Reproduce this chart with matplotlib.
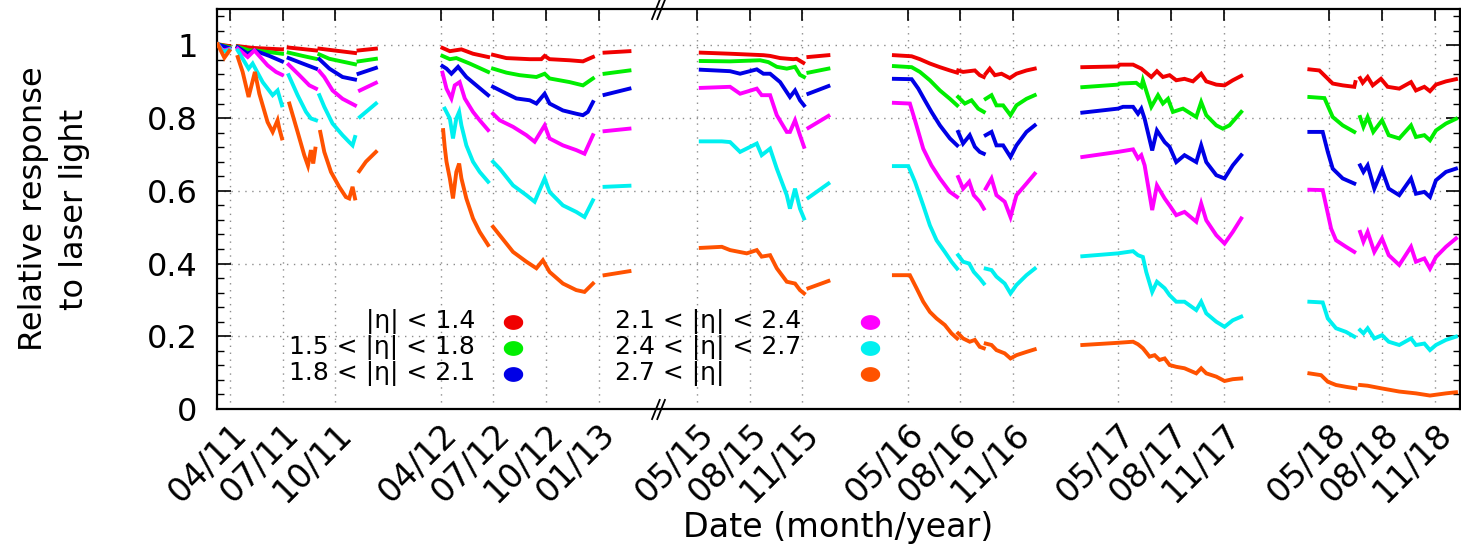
import numpy as np
import matplotlib
matplotlib.use("Agg")
import matplotlib.pyplot as plt
import matplotlib.transforms as mtransforms
from matplotlib.path import Path
from matplotlib.ticker import FixedLocator, MultipleLocator

# x values: months since January 2011 (3 = 04/11), y: relative response
RED = [
    [(2.30, 1.003), (2.96, 0.998)],
    [(3.44, 0.998), (4.29, 0.993), (5.96, 0.989)],
    [(6.34, 0.994), (7.90, 0.986)],
    [(8.09, 0.991), (10.12, 0.979)],
    [(10.32, 0.986), (11.31, 0.991)],
    [(15.10, 0.993), (15.52, 0.984), (16.18, 0.989), (16.84, 0.977), (17.70, 0.968)],
    [(17.98, 0.974), (18.74, 0.965), (20.07, 0.962), (20.73, 0.962), (20.92, 0.971),
     (21.20, 0.962), (22.34, 0.959), (23.10, 0.956), (23.38, 0.962), (23.67, 0.968)],
    [(24.33, 0.980), (25.75, 0.984)],
    [(52.21, 0.980), (53.88, 0.977), (55.78, 0.973), (56.16, 0.971), (56.73, 0.965),
     (57.48, 0.962), (57.67, 0.963), (58.05, 0.952)],
    [(58.34, 0.968), (59.48, 0.973)],
    [(63.21, 0.973), (64.22, 0.970), (64.69, 0.962), (65.26, 0.950), (65.83, 0.940),
     (66.40, 0.931), (66.81, 0.925)],
    [(66.87, 0.931), (67.15, 0.927), (67.82, 0.931), (68.10, 0.918), (68.33, 0.913)],
    [(68.44, 0.922), (68.67, 0.936), (68.96, 0.918), (69.34, 0.922), (69.81, 0.910),
     (70.19, 0.922), (70.76, 0.931), (71.23, 0.936)],
    [(73.94, 0.940), (75.97, 0.942), (76.07, 0.947), (76.83, 0.947), (77.30, 0.936),
     (77.87, 0.913), (78.19, 0.929), (78.53, 0.913), (78.91, 0.918), (79.29, 0.904),
     (79.76, 0.908), (80.24, 0.901), (80.71, 0.922), (81.00, 0.901), (81.57, 0.892),
     (82.04, 0.890), (82.51, 0.904), (82.99, 0.916)],
    [(86.87, 0.934), (87.44, 0.931), (87.82, 0.913), (88.20, 0.895), (88.77, 0.890),
     (89.43, 0.886), (89.49, 0.899)],
    [(89.76, 0.910), (89.91, 0.897), (90.19, 0.913), (90.48, 0.890), (90.95, 0.908),
     (91.33, 0.886), (91.99, 0.881), (92.66, 0.899), (92.94, 0.876), (93.42, 0.886),
     (93.74, 0.874), (94.08, 0.892), (94.65, 0.901), (95.22, 0.907)],
]

GREEN = [
    [(2.30, 1.003), (2.96, 0.995)],
    [(3.44, 0.996), (4.10, 0.986), (4.48, 0.986), (5.96, 0.977)],
    [(6.34, 0.980), (7.14, 0.971), (7.90, 0.963)],
    [(8.09, 0.975), (8.66, 0.963), (10.12, 0.948)],
    [(10.32, 0.956), (11.31, 0.963)],
    [(15.10, 0.971), (15.52, 0.962), (15.89, 0.965), (16.65, 0.950), (17.70, 0.927)],
    [(17.98, 0.936), (18.74, 0.925), (19.50, 0.918), (20.45, 0.913), (20.92, 0.922),
     (21.20, 0.909), (22.34, 0.899), (23.10, 0.890), (23.67, 0.909)],
    [(24.33, 0.922), (25.75, 0.931)],
    [(52.21, 0.957), (53.88, 0.956), (55.59, 0.959), (56.06, 0.954), (56.54, 0.941),
     (57.11, 0.936), (57.58, 0.941), (57.86, 0.919), (58.09, 0.913)],
    [(58.34, 0.925), (59.48, 0.936)],
    [(63.21, 0.943), (64.22, 0.940), (64.69, 0.927), (65.26, 0.904), (65.83, 0.876),
     (66.40, 0.853), (66.81, 0.835)],
    [(66.87, 0.858), (67.25, 0.840), (67.63, 0.849), (68.01, 0.826), (68.33, 0.817)],
    [(68.44, 0.853), (68.77, 0.863), (69.05, 0.835), (69.43, 0.835), (69.85, 0.808),
     (70.19, 0.835), (70.76, 0.853), (71.23, 0.863)],
    [(73.94, 0.885), (75.97, 0.892), (76.07, 0.895), (77.01, 0.897), (77.30, 0.886),
     (77.39, 0.904), (77.87, 0.831), (78.25, 0.863), (78.53, 0.840), (78.82, 0.853),
     (79.10, 0.817), (79.67, 0.826), (80.43, 0.803), (80.71, 0.844), (81.00, 0.808),
     (81.57, 0.780), (81.94, 0.771), (82.32, 0.780), (82.99, 0.817)],
    [(86.87, 0.858), (87.73, 0.855), (88.20, 0.803), (88.77, 0.780), (89.43, 0.762)],
    [(89.76, 0.803), (89.95, 0.776), (90.19, 0.803), (90.51, 0.762), (91.01, 0.794),
     (91.39, 0.753), (91.99, 0.744), (92.66, 0.780), (92.94, 0.748), (93.42, 0.753),
     (93.74, 0.739), (94.08, 0.766), (94.65, 0.785), (95.22, 0.798)],
]

BLUE = [
    [(2.30, 1.003), (2.96, 0.992)],
    [(3.44, 0.995), (4.01, 0.977), (4.39, 0.986), (5.24, 0.971), (5.96, 0.956)],
    [(6.34, 0.965), (7.14, 0.950), (7.90, 0.936)],
    [(8.09, 0.962), (8.66, 0.936), (9.41, 0.913), (10.12, 0.906)],
    [(10.32, 0.922), (11.31, 0.938)],
    [(15.10, 0.943), (15.33, 0.936), (15.61, 0.922), (15.99, 0.941), (16.46, 0.913),
     (17.03, 0.890), (17.70, 0.863)],
    [(17.98, 0.886), (18.55, 0.872), (19.31, 0.854), (20.07, 0.849), (20.45, 0.840),
     (20.92, 0.867), (21.20, 0.840), (21.96, 0.821), (22.72, 0.812), (23.10, 0.808),
     (23.38, 0.817), (23.67, 0.844)],
    [(24.33, 0.864), (25.75, 0.881)],
    [(52.21, 0.933), (53.88, 0.929), (54.45, 0.922), (55.40, 0.934), (55.78, 0.922),
     (56.16, 0.922), (56.73, 0.899), (57.29, 0.858), (57.58, 0.876), (57.86, 0.849),
     (58.09, 0.835)],
    [(58.34, 0.867), (59.48, 0.888)],
    [(63.21, 0.908), (64.22, 0.907), (64.60, 0.881), (64.97, 0.849), (65.35, 0.817),
     (65.83, 0.780), (66.40, 0.744), (66.81, 0.725)],
    [(66.87, 0.762), (67.15, 0.730), (67.53, 0.753), (67.82, 0.721), (68.10, 0.707),
     (68.33, 0.702)],
    [(68.44, 0.753), (68.77, 0.762), (69.05, 0.725), (69.43, 0.725), (69.85, 0.693),
     (70.19, 0.725), (70.76, 0.762), (71.23, 0.780)],
    [(73.94, 0.815), (75.97, 0.826), (76.26, 0.831), (76.83, 0.831), (77.11, 0.812),
     (77.30, 0.826), (77.49, 0.798), (77.92, 0.711), (78.19, 0.766), (78.63, 0.734),
     (78.91, 0.721), (79.29, 0.679), (79.76, 0.698), (80.43, 0.679), (80.71, 0.725),
     (81.00, 0.679), (81.57, 0.643), (82.04, 0.634), (82.51, 0.670), (82.99, 0.698)],
    [(86.87, 0.762), (87.63, 0.762), (87.92, 0.707), (88.20, 0.661), (88.77, 0.634),
     (89.43, 0.620)],
    [(89.76, 0.670), (89.95, 0.652), (90.19, 0.670), (90.57, 0.606), (91.01, 0.657),
     (91.39, 0.606), (91.99, 0.588), (92.66, 0.634), (92.94, 0.592), (93.42, 0.597),
     (93.74, 0.583), (94.08, 0.629), (94.65, 0.652), (95.22, 0.661)],
]

MAGENTA = [
    [(2.30, 1.003), (2.60, 0.985), (2.96, 0.990)],
    [(3.44, 0.991), (4.01, 0.968), (4.39, 0.986), (5.14, 0.945), (5.62, 0.927), (5.96, 0.919)],
    [(6.34, 0.947), (6.95, 0.918), (7.52, 0.890), (7.90, 0.881)],
    [(8.09, 0.929), (8.37, 0.913), (8.84, 0.876), (9.41, 0.853), (10.12, 0.835)],
    [(10.40, 0.876), (11.31, 0.897)],
    [(15.10, 0.925), (15.33, 0.881), (15.61, 0.854), (15.80, 0.890), (16.08, 0.899),
     (16.37, 0.854), (16.84, 0.817), (17.22, 0.794), (17.70, 0.767)],
    [(17.98, 0.812), (18.36, 0.794), (19.12, 0.776), (19.88, 0.753), (20.35, 0.735),
     (20.92, 0.780), (21.20, 0.744), (21.96, 0.725), (22.72, 0.712), (23.19, 0.702),
     (23.67, 0.753)],
    [(24.33, 0.764), (25.75, 0.771)],
    [(52.21, 0.883), (53.88, 0.886), (54.45, 0.867), (55.40, 0.881), (55.68, 0.863),
     (56.16, 0.863), (56.54, 0.808), (57.11, 0.762), (57.29, 0.762), (57.58, 0.794),
     (57.86, 0.753), (58.09, 0.721)],
    [(58.34, 0.773), (59.48, 0.806)],
    [(63.21, 0.842), (64.12, 0.840), (64.41, 0.794), (64.88, 0.716), (65.35, 0.670),
     (65.83, 0.634), (66.40, 0.597), (66.81, 0.583)],
    [(66.87, 0.638), (67.15, 0.606), (67.50, 0.625), (67.76, 0.588), (68.10, 0.570),
     (68.33, 0.551)],
    [(68.44, 0.606), (68.77, 0.634), (69.05, 0.588), (69.52, 0.570), (69.85, 0.528),
     (70.19, 0.588), (70.76, 0.620), (71.23, 0.647)],
    [(73.94, 0.693), (75.97, 0.707), (76.83, 0.714), (77.11, 0.689), (77.30, 0.698),
     (77.49, 0.670), (77.92, 0.547), (78.19, 0.615), (78.63, 0.579), (78.91, 0.560),
     (79.29, 0.533), (79.76, 0.542), (80.43, 0.515), (80.71, 0.565), (81.00, 0.519),
     (81.57, 0.478), (82.04, 0.455), (82.51, 0.487), (82.99, 0.524)],
    [(86.87, 0.603), (87.63, 0.602), (87.82, 0.560), (88.11, 0.496), (88.39, 0.464),
     (88.96, 0.446), (89.43, 0.432)],
    [(89.76, 0.487), (89.95, 0.460), (90.19, 0.487), (90.57, 0.432), (91.01, 0.469),
     (91.39, 0.423), (91.99, 0.396), (92.66, 0.446), (92.94, 0.405), (93.42, 0.414),
     (93.74, 0.386), (94.08, 0.418), (94.65, 0.446), (95.22, 0.469)],
]

CYAN = [
    [(2.30, 1.003), (2.60, 0.982), (2.96, 0.988)],
    [(3.44, 0.986), (4.06, 0.936), (4.29, 0.950), (4.86, 0.899), (5.43, 0.863),
     (5.71, 0.876), (5.96, 0.835)],
    [(6.34, 0.918), (6.85, 0.863), (7.33, 0.817), (7.61, 0.799), (7.90, 0.794)],
    [(8.09, 0.863), (8.37, 0.831), (8.84, 0.785), (9.41, 0.753), (9.79, 0.734),
     (9.98, 0.725), (10.12, 0.748)],
    [(10.40, 0.803), (11.31, 0.840)],
    [(15.23, 0.826), (15.52, 0.799), (15.70, 0.744), (15.89, 0.799), (16.05, 0.817),
     (16.18, 0.780), (16.46, 0.725), (16.84, 0.680), (17.22, 0.652), (17.70, 0.625)],
    [(17.98, 0.680), (18.36, 0.661), (19.12, 0.615), (19.88, 0.588), (20.35, 0.570),
     (20.92, 0.634), (21.20, 0.597), (21.96, 0.560), (22.72, 0.542), (23.19, 0.528),
     (23.67, 0.574)],
    [(24.33, 0.611), (25.75, 0.614)],
    [(52.21, 0.736), (53.41, 0.736), (53.88, 0.734), (54.45, 0.707), (55.40, 0.730),
     (55.68, 0.698), (56.16, 0.716), (56.54, 0.661), (57.11, 0.588), (57.29, 0.551),
     (57.58, 0.606), (57.86, 0.551), (58.09, 0.524)],
    [(58.34, 0.581), (59.48, 0.620)],
    [(63.21, 0.668), (64.03, 0.668), (64.41, 0.625), (64.88, 0.560), (65.26, 0.505),
     (65.64, 0.464), (66.11, 0.432), (66.49, 0.405), (66.81, 0.386)],
    [(66.87, 0.423), (67.15, 0.405), (67.50, 0.400), (67.76, 0.377), (68.10, 0.359),
     (68.33, 0.345)],
    [(68.44, 0.386), (68.77, 0.382), (69.05, 0.364), (69.52, 0.345), (69.85, 0.318),
     (70.19, 0.341), (70.76, 0.368), (71.23, 0.386)],
    [(73.94, 0.420), (75.97, 0.428), (76.83, 0.434), (77.11, 0.423), (77.39, 0.418),
     (77.58, 0.377), (77.92, 0.322), (78.19, 0.350), (78.63, 0.332), (78.91, 0.313),
     (79.29, 0.295), (79.76, 0.295), (80.43, 0.272), (80.71, 0.295), (81.00, 0.263),
     (81.57, 0.240), (82.04, 0.226), (82.51, 0.244), (82.99, 0.254)],
    [(86.87, 0.295), (87.63, 0.293), (87.92, 0.249), (88.39, 0.222), (88.96, 0.212),
     (89.43, 0.199)],
    [(89.76, 0.217), (89.95, 0.208), (90.19, 0.222), (90.57, 0.194), (91.01, 0.203),
     (91.39, 0.185), (91.99, 0.176), (92.66, 0.194), (92.94, 0.176), (93.42, 0.180),
     (93.74, 0.162), (94.08, 0.176), (94.65, 0.190), (95.22, 0.199)],
]

ORANGE = [
    [(2.30, 1.003), (2.68, 0.966), (2.96, 0.985)],
    [(3.44, 0.968), (3.72, 0.927), (4.06, 0.858), (4.42, 0.927), (4.67, 0.867),
     (5.14, 0.789), (5.43, 0.762), (5.71, 0.794), (5.81, 0.771), (5.96, 0.744)],
    [(6.38, 0.840), (6.85, 0.762), (7.23, 0.698), (7.44, 0.669), (7.61, 0.712),
     (7.74, 0.675), (7.86, 0.716)],
    [(8.14, 0.762), (8.37, 0.707), (8.75, 0.652), (9.22, 0.611), (9.60, 0.583),
     (9.79, 0.579), (9.98, 0.611), (10.12, 0.579)],
    [(10.36, 0.654), (10.74, 0.680), (11.31, 0.707)],
    [(15.14, 0.767), (15.23, 0.720), (15.33, 0.680), (15.52, 0.634), (15.70, 0.579),
     (15.89, 0.652), (16.05, 0.675), (16.18, 0.634), (16.46, 0.579), (16.84, 0.524),
     (17.22, 0.487), (17.70, 0.451)],
    [(17.98, 0.501), (18.36, 0.478), (19.12, 0.432), (19.88, 0.405), (20.45, 0.387),
     (20.82, 0.409), (21.20, 0.377), (21.96, 0.345), (22.72, 0.327), (23.19, 0.322),
     (23.67, 0.345)],
    [(24.33, 0.368), (25.75, 0.379)],
    [(52.21, 0.443), (53.41, 0.446), (53.88, 0.437), (54.83, 0.428), (55.40, 0.437),
     (55.68, 0.419), (56.16, 0.423), (56.54, 0.387), (57.11, 0.350), (57.58, 0.345),
     (57.86, 0.327), (58.09, 0.318)],
    [(58.34, 0.332), (59.48, 0.352)],
    [(63.21, 0.368), (64.12, 0.368), (64.50, 0.332), (64.88, 0.295), (65.26, 0.267),
     (65.64, 0.249), (66.11, 0.231), (66.49, 0.208), (66.81, 0.194)],
    [(66.87, 0.208), (67.15, 0.194), (67.53, 0.185), (67.82, 0.190), (68.10, 0.171),
     (68.33, 0.167)],
    [(68.44, 0.180), (68.77, 0.176), (69.05, 0.162), (69.52, 0.153), (69.85, 0.139),
     (70.19, 0.148), (70.76, 0.157), (71.23, 0.164)],
    [(73.94, 0.176), (75.97, 0.182), (76.83, 0.185), (77.11, 0.178), (77.39, 0.167),
     (77.77, 0.144), (78.06, 0.148), (78.34, 0.135), (78.63, 0.139), (78.91, 0.121),
     (79.29, 0.116), (79.76, 0.112), (80.43, 0.098), (80.71, 0.112), (81.00, 0.098),
     (81.57, 0.089), (82.04, 0.077), (82.51, 0.082), (82.99, 0.084)],
    [(86.87, 0.098), (87.54, 0.093), (87.92, 0.075), (88.39, 0.066), (88.96, 0.061),
     (89.49, 0.057)],
    [(89.76, 0.066), (90.19, 0.064), (90.95, 0.057), (91.99, 0.048), (92.94, 0.043),
     (93.74, 0.037), (94.65, 0.043), (95.22, 0.046)],
]

SERIES = [RED, GREEN, BLUE, MAGENTA, CYAN, ORANGE]
COLORS = ['#f00000', '#00ee00', '#0000e6', '#ff00ff', '#00f0f0', '#ff5200']
LABELS = ['|η| < 1.4', '1.5 < |η| < 1.8', '1.8 < |η| < 2.1',
          '2.1 < |η| < 2.4', '2.4 < |η| < 2.7', '2.7 < |η|']
TICK_LABELS = ['04/11', '07/11', '10/11', '04/12', '07/12', '10/12', '01/13',
               '05/15', '08/15', '11/15', '05/16', '08/16', '11/16',
               '05/17', '08/17', '11/17', '05/18', '08/18', '11/18']

# axis break: months between B1 and B2 are squeezed out
B1, B2 = 27.37, 49.78
EPS = 0.01
KNOTS_IN = [-1000.0, B1, B2, 1000.0]
KNOTS_OUT = [-1000.0, B1, B1 + EPS, 1000.0 - (B2 - B1) + EPS]


def fwd(m):
    return np.interp(m, KNOTS_IN, KNOTS_OUT)


def inv(x):
    return np.interp(x, KNOTS_OUT, KNOTS_IN)


def label_to_month(lab):
    mm, yy = lab.split('/')
    return (2000 + int(yy) - 2011) * 12 + int(mm) - 1


plt.rcParams['font.family'] = ['DejaVu Sans']

W, H = 1461, 545
fig = plt.figure(figsize=(W / 100, H / 100), dpi=100)
ax = fig.add_axes([217 / W, 136 / H, (1460 - 217) / W, 400 / H])
ax.set_xscale('function', functions=(fwd, inv))

for segs, col in zip(SERIES, COLORS):
    for seg in segs:
        xs = [p[0] for p in seg]
        ys = [p[1] for p in seg]
        ax.plot(xs, ys, color=col, lw=2.8, solid_joinstyle='miter', zorder=3)

ax.set_xlim(2.26, 95.45)
ax.set_ylim(0, 1.1)

ticks = [label_to_month(t) for t in TICK_LABELS]
ax.xaxis.set_major_locator(FixedLocator(ticks))
ax.set_xticklabels(TICK_LABELS, rotation=45, ha='right', va='top',
                   rotation_mode='anchor', fontsize=24)
shift = mtransforms.ScaledTranslation(0.16, 0.0, fig.dpi_scale_trans)
for lab in ax.get_xticklabels():
    lab.set_transform(lab.get_transform() + shift)
ax.xaxis.set_minor_locator(FixedLocator([]))
ax.tick_params(axis='x', which='major', direction='in', top=True, bottom=True,
               length=0, pad=6)
ax.set_yticks([0, 0.2, 0.4, 0.6, 0.8, 1.0])
ax.set_yticklabels(['0', '0.2', '0.4', '0.6', '0.8', '1'], fontsize=23)
ax.yaxis.set_minor_locator(MultipleLocator(0.04))
ax.tick_params(axis='y', which='major', direction='in', left=True, right=True,
               length=10, width=1.2, pad=14)
ax.tick_params(axis='y', which='minor', direction='in', left=True, right=True,
               length=5, width=1.0)
ax.grid(True, which='major', ls=(0, (1, 4)), color='0.55', lw=1.0, zorder=0)

# top ticks drawn separately (inward), bottom has none
for t in ticks:
    ax.plot([t, t], [1.1, 1.1 - 0.03], color='k', lw=1.2, clip_on=False, zorder=4)

for s in ax.spines.values():
    s.set_linewidth(1.6)

ax.set_ylabel('Relative response\nto laser light', fontsize=23, linespacing=1.4)
ax.yaxis.label.set_va('center')
ax.yaxis.set_label_coords(-0.131, 0.5)
ax.set_xlabel('Date (month/year)', fontsize=24)
ax.xaxis.label.set_va('center')
ax.xaxis.set_label_coords(0.5, -0.295)

# break marks "//" on the bottom and top borders
slash = Path([(-0.65, -1), (0.15, 1), (-0.15, -1), (0.65, 1)],
             [Path.MOVETO, Path.LINETO, Path.MOVETO, Path.LINETO])
ax.plot([B1, B1], [0, 1.1], ls='none', marker=slash, markersize=15,
        mec='k', mew=1.3, clip_on=False, zorder=5)

# legend, two columns
ell = [(1.35 * np.cos(a), np.sin(a)) for a in np.linspace(0, 2 * np.pi, 40)]
rows = [0.2175, 0.1525, 0.0875]
for i, (lab, col) in enumerate(zip(LABELS, COLORS)):
    r = rows[i % 3]
    if i < 3:
        ax.text(0.2076, r, lab, transform=ax.transAxes, ha='right', va='center',
                fontsize=18)
        mx = 0.2381
    else:
        ax.text(0.3202, r, lab, transform=ax.transAxes, ha='left', va='center',
                fontsize=18)
        mx = 0.5253
    ax.plot([mx], [r], transform=ax.transAxes, ls='none', marker=ell,
            markersize=13, color=col, mec=col, zorder=5)

fig.savefig('out.png', dpi=100)
